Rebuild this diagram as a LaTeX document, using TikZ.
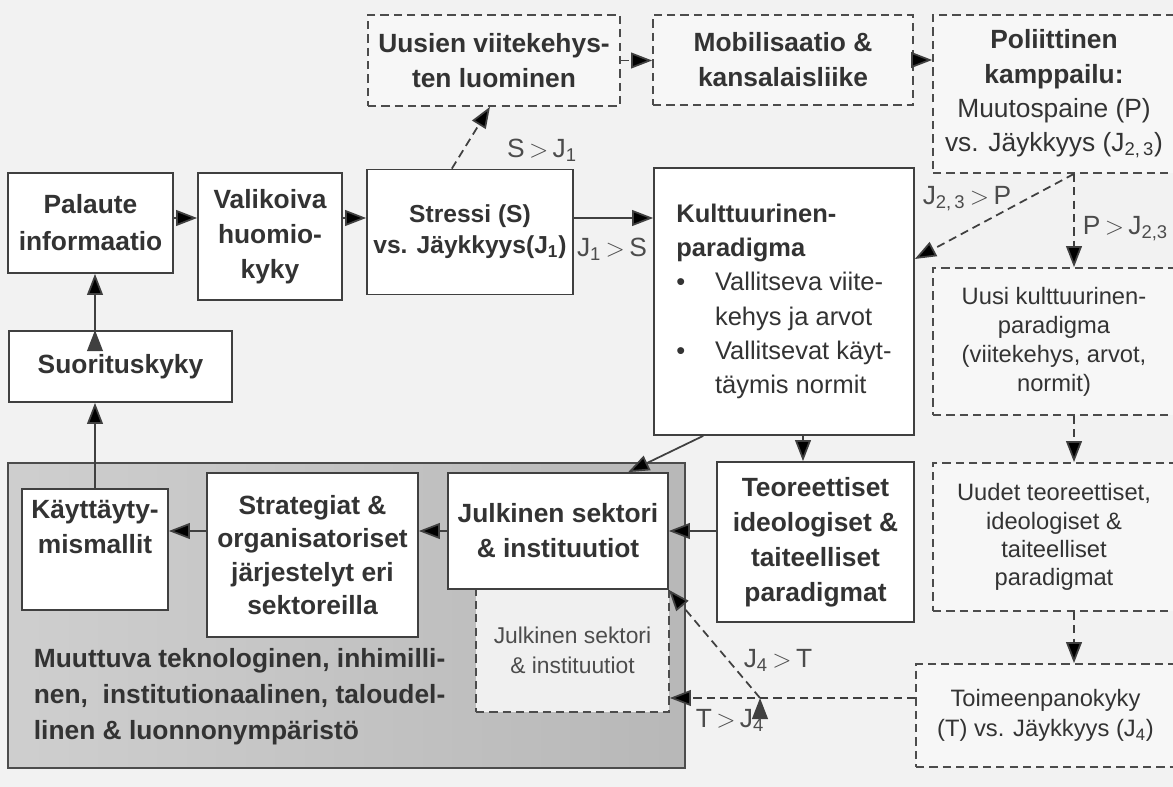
\documentclass[tikz,border=0pt]{standalone}
\usepackage{fontspec}
\setmainfont{Liberation Sans}
\usetikzlibrary{arrows.meta}

\begin{document}
\begin{tikzpicture}[x=0.02cm, y=-0.02cm, line width=1pt,
    every node/.style={inner sep=0pt, text=black!80},
    box/.style={draw=black!75, fill=white, align=center,
      font=\bfseries\fontsize{15}{20}\selectfont},
    dbox/.style={draw=black!70, dash pattern=on 4.7pt off 2.9pt,
      fill=black!3, align=center, font=\fontsize{13.5}{16.5}\selectfont},
    region/.style={draw=black!70, left color=black!19, right color=black!28},
    lab/.style={text=black!70, font=\fontsize{15}{18}\selectfont},
    arr/.style={draw=black!75, -{Triangle[length=12pt, width=9pt]}},
    darr/.style={arr, dash pattern=on 4.7pt off 2.9pt}]

   \useasboundingbox (0,0) rectangle (1173,787);
   \clip (0,0) rectangle (1173,787);
   \fill[black!5] (0,0) rectangle (1173,787);

   % ymparisto
   \node[region, minimum width=13.54cm, minimum height=6.10cm] (ympar) at (346.5,615.5) {};
   \node[anchor=west, align=left, font=\bfseries\fontsize{15}{20.5}\selectfont] (muutos) at (33,697)
      {Muuttuva teknologinen, inhimilli-\\nen,\ \ institutionaalinen, taloudel-\\linen \& luonnonympäristö};

   % top row
   \node[box, minimum width=3.30cm, minimum height=2.00cm, font=\bfseries\fontsize{15}{21}\selectfont] (palaute) at (90.5,223) {Palaute\\informaatio};
   \node[box, minimum width=2.88cm, minimum height=2.54cm] (valikoiva) at (270,236.5) {Valikoiva\\huomio-\\kyky};
   \node[box, minimum width=4.12cm, minimum height=2.50cm, font=\bfseries\fontsize{14}{17.5}\selectfont] (stressi) at (470,232) {Stressi (S)\\vs. Jäykkyys(J\textsubscript{1})};
   \node[dbox, minimum width=5.04cm, minimum height=1.82cm, font=\bfseries\fontsize{15}{20}\selectfont] (uusien) at (494,60.5) {Uusien viitekehys-\\ten luominen};
   \node[dbox, minimum width=5.20cm, minimum height=1.80cm, font=\bfseries\fontsize{15}{20}\selectfont] (mobil) at (783,60) {Mobilisaatio \&\\kansalaisliike};
   \node[dbox, minimum width=4.84cm, minimum height=3.16cm, font=\fontsize{15}{19.5}\selectfont] (poliit) at (1054,94)
      {\textbf{Poliittinen}\\\textbf{kamppailu:}\\Muutospaine (P)\\vs. Jäykkyys (J\textsubscript{2,\,3})};

   % middle
   \node[box, align=left, minimum width=5.20cm, minimum height=5.34cm, font=\fontsize{14.5}{19.5}\selectfont] (kulttuur) at (784,301.5)
      {\textbf{Kulttuurinen-}\\\textbf{paradigma}\\\makebox[22pt][l]{\textbullet}Vallitseva viite-\\\hspace*{22pt}kehys ja arvot\\\makebox[22pt][l]{\textbullet}Vallitsevat käyt-\\\hspace*{22pt}täymis normit};
   \node[dbox, minimum width=4.84cm, minimum height=2.94cm] (uusikult) at (1054,341.5)
      {Uusi kulttuurinen-\\paradigma\\(viitekehys, arvot,\\normit)};
   \node[box, minimum width=4.46cm, minimum height=1.42cm] (suorit) at (120.5,366.5) {Suorituskyky};

   % bottom
   \node[dbox, minimum width=4.84cm, minimum height=2.96cm, font=\fontsize{13.5}{16}\selectfont] (uudet) at (1054,537)
      {Uudet teoreettiset,\\ideologiset \&\\taiteelliset\\paradigmat};
   \node[box, minimum width=3.94cm, minimum height=3.20cm] (teor) at (815.5,542)
      {Teoreettiset\\ideologiset \&\\taiteelliset\\paradigmat};
   \node[dbox, minimum width=5.18cm, minimum height=2.06cm, font=\fontsize{13.5}{17}\selectfont] (toimeen) at (1045.5,715.5)
      {Toimeenpanokyky\\(T) vs. Jäykkyys (J\textsubscript{4})};
   \node[dbox, fill=black!6, text=black!70, minimum width=3.86cm, minimum height=2.46cm, font=\fontsize{13}{17}\selectfont] (julkd) at (572.5,650.5)
      {Julkinen sektori\\\& instituutiot};
   \node[box, minimum width=4.40cm, minimum height=2.32cm] (julk) at (558,531) {Julkinen sektori\\\& instituutiot};
   \node[box, minimum width=4.22cm, minimum height=3.28cm, font=\bfseries\fontsize{15}{19}\selectfont] (strat) at (312.5,555)
      {Strategiat \&\\organisatoriset\\järjestelyt eri\\sektoreilla};
   \node[box, minimum width=2.92cm, minimum height=2.42cm] (kaytt) at (95,549.5) {Käyttäyty-\\mismallit\\[6pt]};

   % guide points
   \coordinate (toprow) at (0,218);
   \coordinate (kcol) at (803,0);
   \coordinate (rcol) at (1074,0);
   \coordinate (tline) at (0,698);
   \coordinate (split) at (760,698);

   \path[arr]
    (palaute.east |- toprow) edge (valikoiva.west |- toprow)
    (valikoiva.east |- toprow) edge (stressi.west |- toprow)
    (stressi.east |- toprow) edge (kulttuur.west |- toprow)
    (kulttuur.239) edge (julk.40)
    (kulttuur.south -| kcol) edge (teor.north -| kcol)
    (teor.west |- julk.east) edge (julk.east)
    (julk.west) edge (strat.east |- julk.west)
    (strat.west |- julk.west) edge (kaytt.east |- julk.west)
    (kaytt.north) edge (suorit.south -| kaytt.north)
    (suorit.north -| kaytt.north) edge (palaute.south -| kaytt.north);

   \path[darr]
    (stressi.106) edge (uusien.265)
    (uusien.east) edge (mobil.west |- uusien.east)
    (mobil.east) edge (poliit.west |- mobil.east)
    (poliit.south -| rcol) edge (kulttuur.18)
    (poliit.south -| rcol) edge (uusikult.north -| rcol)
    (uusikult.south -| rcol) edge (uudet.north -| rcol)
    (uudet.south -| rcol) edge (toimeen.north -| rcol)
    (toimeen.west |- tline) edge (julkd.east |- tline)
    (split) edge (julk.south east);

   % conditions
   \node[lab] (sj) at (542,150) {S\,$>$\,J\textsubscript{1}};
   \node[lab] (js) at (612,249) {J\textsubscript{1}\,$>$\,S};
   \node[lab] (jp) at (967,199) {J\textsubscript{2,\,3}\,$>$\,P};
   \node[lab, anchor=east] (pj) at (1169,229) {P\,$>$\,J\textsubscript{2,3}};
   \node[lab] (jt) at (778,660) {J\textsubscript{4}\,$>$\,T};
   \node[lab] (tj) at (730,720) {T\,$>$\,J\textsubscript{4}};
\end{tikzpicture}
\end{document}
